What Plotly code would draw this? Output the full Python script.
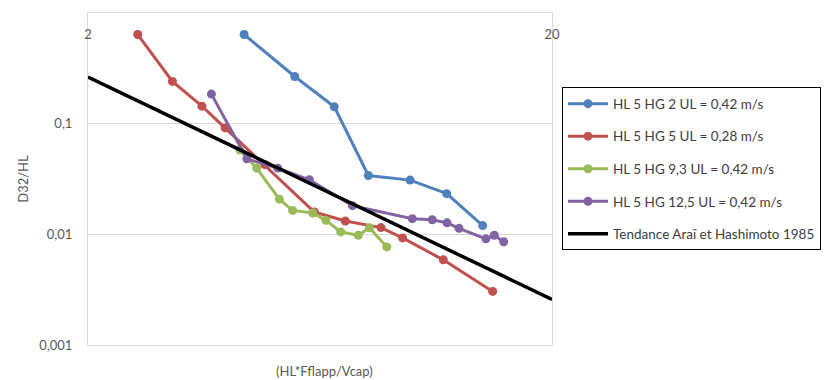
import plotly.graph_objects as go

# Data
blue_x = [4.34, 5.58, 6.79, 8.04, 9.89, 11.86, 14.18]
blue_y = [0.639, 0.267, 0.142, 0.0340, 0.0309, 0.0233, 0.0120]

red_x = [2.56, 3.04, 3.52, 3.95, 4.81, 6.15, 7.17, 8.56, 9.53, 11.66, 14.9]
red_y = [0.639, 0.241, 0.144, 0.0915, 0.0427, 0.0159, 0.0132, 0.0115, 0.00928, 0.00588, 0.00305]

green_x = [4.25, 4.62, 5.17, 5.52, 6.10, 6.51, 7.01, 7.65, 8.08, 8.81]
green_y = [0.0577, 0.0396, 0.0208, 0.01644, 0.0156, 0.01337, 0.01051, 0.0098, 0.01148, 0.0077]

purple_x = [3.69, 4.40, 5.13, 6.00, 7.43, 10.0, 11.04, 11.88, 12.61, 14.41, 15.02, 15.74]
purple_y = [0.185, 0.0481, 0.0396, 0.0311, 0.01815, 0.01385, 0.01356, 0.0127, 0.01133, 0.0091, 0.0098, 0.00855]

trend_x = [2, 20]
trend_y = [0.264, 0.00258]

series_names = [
    "HL 5 HG 2 UL = 0,42 m/s",
    "HL 5 HG 5 UL = 0,28 m/s",
    "HL 5 HG 9,3 UL = 0,42 m/s",
    "HL 5 HG 12,5 UL = 0,42 m/s",
    "Tendance Araï et Hashimoto 1985",
]
colors = ["#4F81BD", "#C0504D", "#9BBB59", "#8064A2", "#000000"]

x_tickvals = [2, 20]
x_ticktext = ["2", "20"]
y_tickvals = [0.001, 0.01, 0.1, 1]
y_ticktext = ["0,001", "0,01", "0,1", "1"]

x_title = "(HL*Fflapp/Vcap)"
y_title = "D32/HL"

FONT = "Lato, 'Open Sans', sans-serif"
GRAY = "#595959"

fig = go.Figure()
data = [(blue_x, blue_y), (red_x, red_y), (green_x, green_y), (purple_x, purple_y)]
for i, (xs, ys) in enumerate(data):
    fig.add_trace(go.Scatter(
        x=xs, y=ys, mode="lines+markers", name=series_names[i],
        legendgroup=f"g{i}",
        line=dict(color=colors[i], width=3),
        marker=dict(color=colors[i], size=9),
    ))
fig.add_trace(go.Scatter(
    x=trend_x, y=trend_y, mode="lines", name=series_names[4],
    legendgroup="g4",
    line=dict(color=colors[4], width=3.5),
))
# invisible trace on the top axis so its tick labels are drawn
fig.add_trace(go.Scatter(x=trend_x, y=trend_y, xaxis="x2", mode="lines",
                         line=dict(width=0), showlegend=False, hoverinfo="skip"))

# page body has an 8px margin: figure size/margins compensate for it
fig.update_layout(
    width=824, height=372,
    margin=dict(l=80, r=280, t=5, b=35.4),
    paper_bgcolor="white", plot_bgcolor="white",
    font=dict(family=FONT, size=13, color=GRAY),
    showlegend=True,
    legend=dict(
        x=1.0216, y=0.776, xanchor="left", yanchor="top",
        bordercolor="#000000", borderwidth=1,
        font=dict(family=FONT, size=13.5, color="#404040"),
        tracegroupgap=12,
        itemwidth=40,
        entrywidth=246, entrywidthmode="pixels",
    ),
    xaxis=dict(
        type="log", range=[0.30103, 1.30103],
        tickvals=x_tickvals, showticklabels=False, ticks="",
        showgrid=True, gridcolor="#d9d9d9", gridwidth=1,
        showline=True, mirror=True, linecolor="#d9d9d9", linewidth=1,
        zeroline=False, automargin=False,
    ),
    xaxis2=dict(
        type="log", range=[0.30103, 1.30103], overlaying="x", matches="x",
        side="top", anchor="free", position=0.915,
        tickvals=x_tickvals, ticktext=x_ticktext, ticks="",
        showgrid=False, showline=False, zeroline=False, automargin=False,
        tickfont=dict(family=FONT, size=13, color=GRAY),
    ),
    yaxis=dict(
        type="log", range=[-3, 0],
        tickvals=y_tickvals, ticktext=y_ticktext,
        ticks="", ticklabelstandoff=12,
        showgrid=True, gridcolor="#d9d9d9", gridwidth=1,
        showline=True, mirror=True, linecolor="#d9d9d9", linewidth=1,
        zeroline=False, automargin=False,
        tickfont=dict(family=FONT, size=13, color=GRAY),
        title=dict(text=y_title, font=dict(family=FONT, size=13, color=GRAY), standoff=7),
    ),
    annotations=[dict(
        text=x_title, xref="paper", yref="paper", x=0.51, y=-0.0775,
        xanchor="center", yanchor="middle", showarrow=False,
        font=dict(family=FONT, size=13, color=GRAY),
    )],
)

fig.write_html("out.html")
